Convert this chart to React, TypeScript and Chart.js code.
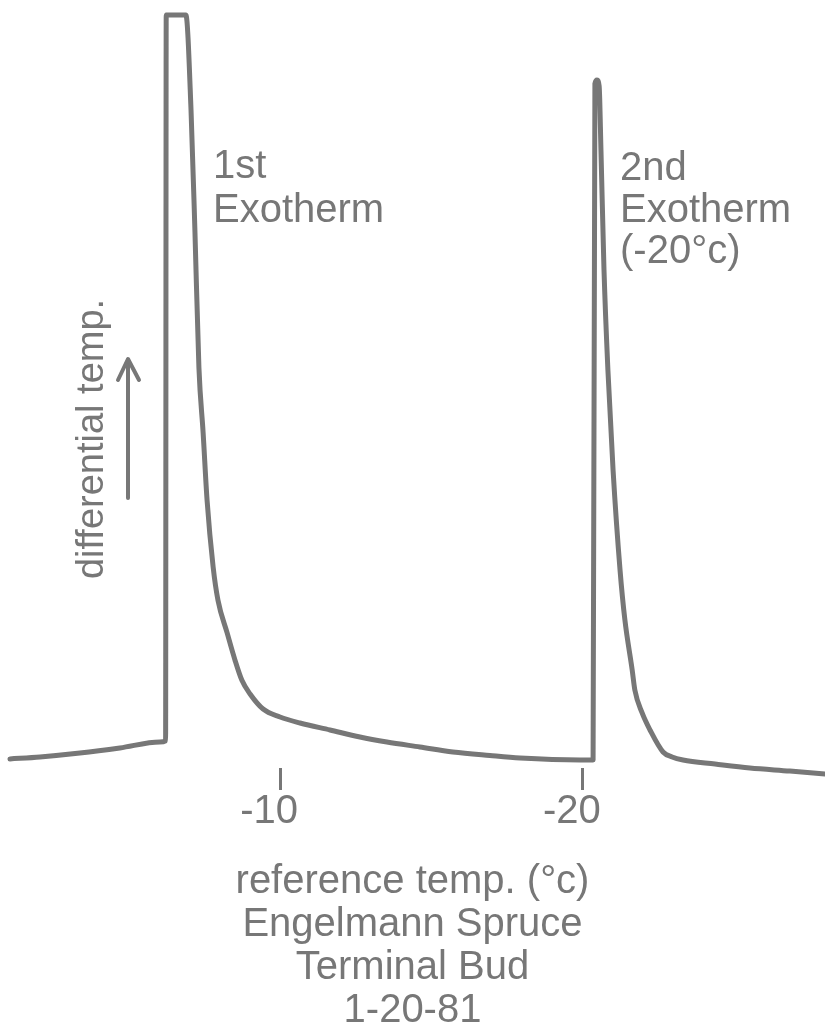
import React, { useEffect, useRef } from "react";
import { Chart, registerables } from "chart.js";

Chart.register(...registerables);

// Reference temperature (°C) along the trace
const refTemp: number[] = [
  -1.08, -2.07, -3.39, -4.71, -6.03, -6.22,
  -6.24, -6.89, -7.06, -7.19, -7.32, -7.46, -7.59, -7.79, -7.95, -8.25,
  -8.51, -8.74, -9.01, -9.44, -10.0, -10.66, -11.65, -12.64, -13.53,
  -14.62, -15.71, -16.93, -17.93, -19.91, -20.34,
  -20.4, -20.47, -20.54, -20.6, -20.7, -20.83, -21.0, -21.23, -21.39,
  -21.63, -21.72, -21.96, -22.22, -22.65, -22.95, -23.31, -24.37,
  -25.52, -26.84, -28.0,
];

// Differential temperature (arbitrary units, 0–100)
const diffTemp: number[] = [
  1.19, 1.46, 1.98, 2.65, 3.44, 3.6,
  99.6, 99.6, 87.0, 70.8, 53.0, 44.3, 35.4, 26.6, 22.2, 17.9,
  14.3, 11.6, 9.79, 7.8, 6.75, 5.95, 5.03, 4.1, 3.44,
  2.78, 2.12, 1.65, 1.32, 1.06, 1.06,
  90.5, 91.0, 90.2, 81.7, 65.9, 52.6, 39.4, 26.2, 19.6,
  13.0, 10.3, 7.28, 5.03, 2.12, 1.46, 1.06, 0.53,
  0.0, -0.4, -0.79,
];

const xTickValues: number[] = [-10, -20];
const xTickLabels: string[] = ["-10", "-20"];
const xTitleLines: string[] = [
  "reference temp. (°c)",
  "Engelmann Spruce",
  "Terminal Bud",
  "1-20-81",
];
const yTitle = "differential temp.";
const firstExoLines: string[] = ["1st", "Exotherm"];
const secondExoLines: string[] = ["2nd", "Exotherm", "(-20°c)"];

const GRAY = "#777777";
const FONT = "'Liberation Sans', Arial, sans-serif";

const annotationPlugin = {
  id: "annotations",
  afterDraw(chart: any) {
    const ctx = chart.ctx as CanvasRenderingContext2D;
    ctx.save();
    ctx.fillStyle = GRAY;
    ctx.strokeStyle = GRAY;
    ctx.font = `40px ${FONT}`;
    ctx.textAlign = "left";
    ctx.textBaseline = "alphabetic";
    // 1st exotherm
    ctx.fillText(firstExoLines[0], 213, 178);
    ctx.fillText(firstExoLines[1], 213, 222);
    // 2nd exotherm
    ctx.fillText(secondExoLines[0], 620, 180);
    ctx.fillText(secondExoLines[1], 620, 222);
    ctx.fillText(secondExoLines[2], 620, 263);

    // y-axis label (rotated)
    ctx.save();
    ctx.translate(103, 439);
    ctx.rotate(-Math.PI / 2);
    ctx.font = `38px ${FONT}`;
    ctx.textAlign = "center";
    ctx.textBaseline = "alphabetic";
    ctx.fillText(yTitle, 0, 0);
    ctx.restore();

    // arrow
    ctx.lineWidth = 4;
    ctx.lineCap = "round";
    ctx.lineJoin = "round";
    ctx.beginPath();
    ctx.moveTo(128, 498);
    ctx.lineTo(128, 360);
    ctx.stroke();
    ctx.beginPath();
    ctx.moveTo(118, 380);
    ctx.lineTo(128, 359);
    ctx.lineTo(139, 380);
    ctx.stroke();
    ctx.restore();
  },
};

export default function App() {
  const canvasRef = useRef<HTMLCanvasElement | null>(null);

  useEffect(() => {
    const canvas = canvasRef.current;
    if (!canvas) return;
    const chart = new Chart(canvas, {
      type: "line",
      data: {
        datasets: [
          {
            data: refTemp.map((x, i) => ({ x, y: diffTemp[i] })),
            borderColor: GRAY,
            borderWidth: 5,
            pointRadius: 0,
            cubicInterpolationMode: "monotone",
            fill: false,
            clip: false as any,
            borderJoinStyle: "round",
            borderCapStyle: "round",
          } as any,
        ],
      },
      options: {
        animation: false,
        responsive: false,
        maintainAspectRatio: false,
        layout: { padding: { top: 12, left: 0, right: 0, bottom: 0 } },
        plugins: {
          legend: { display: false },
          tooltip: { enabled: false },
        },
        scales: {
          x: {
            type: "linear",
            reverse: true,
            min: -28,
            max: -0.75,
            position: "bottom",
            afterBuildTicks: (s: any) => {
              s.ticks = xTickValues.map((v) => ({ value: v }));
            },
            afterFit: (s: any) => {
              s.height = 264;
            },
            grid: {
              display: true,
              drawOnChartArea: false,
              drawTicks: true,
              tickLength: 22,
              tickWidth: 3,
              tickColor: GRAY,
            },
            border: { display: false },
            ticks: {
              color: GRAY,
              padding: 0,
              labelOffset: -11,
              font: { family: FONT, size: 40, lineHeight: 1.1 },
              callback: (v: any) => {
                const idx = xTickValues.indexOf(Number(v));
                return idx >= 0 ? xTickLabels[idx] : "";
              },
            },
            title: {
              display: true,
              text: xTitleLines,
              color: GRAY,
              font: { family: FONT, size: 40, lineHeight: 1.075 },
              padding: { top: 0, bottom: 0 },
            },
          } as any,
          y: { display: false, min: 0, max: 100 },
        },
      },
      plugins: [annotationPlugin],
    });
    return () => chart.destroy();
  }, []);

  return (
    <div style={{ position: "absolute", left: 0, top: 0, width: 825, height: 1032, background: "#fff" }}>
      <canvas ref={canvasRef} width={825} height={1032} style={{ width: 825, height: 1032, display: "block" }} />
    </div>
  );
}
